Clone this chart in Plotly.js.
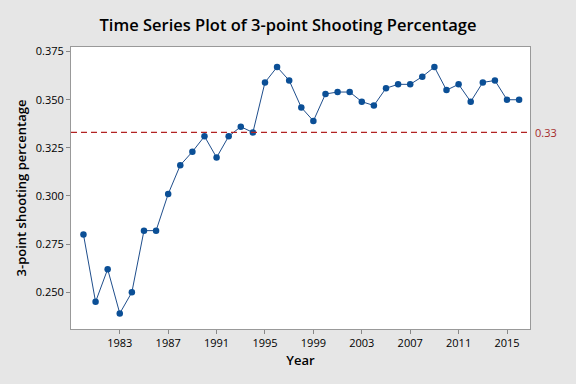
<!DOCTYPE html>
<html><head><meta charset="utf-8">
<script src="https://cdn.plot.ly/plotly-3.0.1.min.js"></script>
<style>html,body{margin:0;padding:0;background:#e6e6e6;}#chart{width:576px;height:384px;}</style>
</head><body><div id="chart"></div>
<script>
const years = [1980,1981,1982,1983,1984,1985,1986,1987,1988,1989,1990,1991,1992,1993,1994,1995,1996,1997,1998,1999,2000,2001,2002,2003,2004,2005,2006,2007,2008,2009,2010,2011,2012,2013,2014,2015,2016];
const pct = [0.280,0.245,0.262,0.239,0.250,0.282,0.282,0.301,0.316,0.323,0.331,0.320,0.331,0.336,0.333,0.359,0.367,0.360,0.346,0.339,0.353,0.354,0.354,0.349,0.347,0.356,0.358,0.358,0.362,0.367,0.355,0.358,0.349,0.359,0.360,0.350,0.350];
const xTicks = [1983,1987,1991,1995,1999,2003,2007,2011,2015];
const yTicks = [0.250,0.275,0.300,0.325,0.350,0.375];
const refValue = 0.333;
const refLabel = "0.33";

const font = "Open Sans, Noto Sans, sans-serif";
Plotly.newPlot('chart', [{
  x: years, y: pct, mode: 'lines+markers', type: 'scatter',
  line: {color: '#1f4e8c', width: 1},
  marker: {color: '#0b4f96', size: 6.5},
  hoverinfo: 'skip'
}], {
  width: 576, height: 384,
  paper_bgcolor: '#e6e6e6', plot_bgcolor: '#ffffff',
  margin: {l: 71, r: 46, t: 47, b: 55},
  showlegend: false,
  title: {text: 'Time Series Plot of 3-point Shooting Percentage', x: 0.5, xanchor: 'center', y: 0.935, yanchor: 'middle',
    font: {family: font, size: 16.5, color: '#000', weight: 600}},
  xaxis: {range: [1978.97, 2016.9], tickvals: xTicks, ticktext: xTicks.map(String),
    ticks: 'outside', ticklen: 4, tickcolor: '#888', showgrid: false, zeroline: false,
    showline: true, linecolor: '#999', mirror: true, tickfont: {family: font, size: 11, color: '#000'},
    title: {text: 'Year', font: {family: font, size: 13, color: '#000', weight: 600}, standoff: 6}},
  yaxis: {range: [0.2309, 0.3774], tickvals: yTicks, ticktext: yTicks.map(v => v.toFixed(3)),
    ticks: 'outside', ticklen: 4, tickcolor: '#888', showgrid: false, zeroline: false,
    showline: true, linecolor: '#999', mirror: true, tickfont: {family: font, size: 11, color: '#000'},
    title: {text: '3-point shooting percentage', font: {family: font, size: 13, color: '#000', weight: 600}, standoff: 6}},
  shapes: [{type: 'line', xref: 'paper', x0: 0, x1: 1, yref: 'y', y0: refValue, y1: refValue,
    line: {color: '#b22222', width: 1.2, dash: '6px,4px'}}],
  annotations: [{xref: 'paper', x: 1, xanchor: 'left', xshift: 3, yref: 'y', y: refValue, yanchor: 'middle',
    text: refLabel, showarrow: false, font: {family: font, size: 11, color: '#a52a2a'}}]
}, {displayModeBar: false, staticPlot: true});
</script></body></html>
